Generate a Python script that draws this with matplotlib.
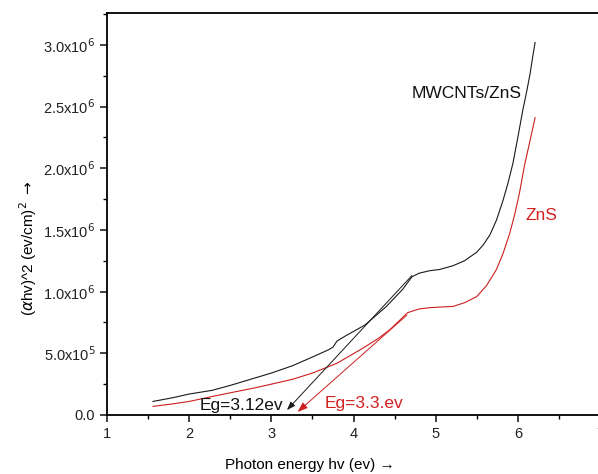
import matplotlib
matplotlib.use("Agg")
from matplotlib import pyplot as plt
from matplotlib.ticker import MultipleLocator, FuncFormatter
import numpy as np

plt.rcParams['font.family'] = ['Liberation Sans', 'DejaVu Sans']

# MWCNTs/ZnS curve
x_mw = [1.56, 1.8, 2.0, 2.28, 2.5, 2.8, 3.0, 3.26, 3.5, 3.7, 3.75, 3.8, 3.9, 4.14,
        4.4, 4.6, 4.71, 4.8, 4.93, 5.05, 5.21, 5.35, 5.5, 5.58, 5.66, 5.74, 5.82, 5.88,
        5.94, 6.0, 6.06, 6.11, 6.15, 6.18, 6.21]
y_mw = [0.11, 0.14, 0.17, 0.20, 0.24, 0.30, 0.34, 0.40, 0.47, 0.53, 0.55, 0.60, 0.64, 0.73,
        0.88, 1.02, 1.12, 1.15, 1.17, 1.18, 1.21, 1.25, 1.32, 1.38, 1.46, 1.58, 1.74, 1.88,
        2.04, 2.25, 2.47, 2.63, 2.77, 2.90, 3.02]

# ZnS curve
x_zns = [1.56, 1.8, 2.0, 2.28, 2.5, 2.8, 3.0, 3.26, 3.5, 3.8, 4.11, 4.3, 4.44, 4.66,
         4.8, 4.93, 5.05, 5.21, 5.35, 5.5, 5.62, 5.74, 5.82, 5.9, 5.96, 6.02, 6.08,
         6.15, 6.21]
y_zns = [0.07, 0.09, 0.11, 0.15, 0.18, 0.22, 0.25, 0.29, 0.34, 0.42, 0.54, 0.62, 0.69, 0.83,
         0.86, 0.87, 0.875, 0.88, 0.91, 0.96, 1.05, 1.18, 1.31, 1.47, 1.62, 1.80, 2.02,
         2.23, 2.41]

# tangent lines (start on curve, end at band gap)
tan_mw = [(4.71, 1.13), (3.19, 0.04)]
tan_zns = [(4.65, 0.81), (3.32, 0.025)]

scale = 1e6

fig = plt.figure(figsize=(5.98, 4.74), dpi=100)
ax = fig.add_axes([107 / 598, 1 - 415 / 474, 493 / 598, 401.5 / 474])

ax.plot(x_mw, np.array(y_mw) * scale, color="#1a1a1a", lw=0.8)
ax.plot(x_zns, np.array(y_zns) * scale, color="#cc1f1f", lw=0.8)

ax.annotate("", xy=(tan_mw[1][0], tan_mw[1][1] * scale),
            xytext=(tan_mw[0][0], tan_mw[0][1] * scale),
            arrowprops=dict(arrowstyle="-|>,head_length=0.5,head_width=0.18",
                            color="#1a1a1a", lw=0.7, shrinkA=0, shrinkB=0))
ax.annotate("", xy=(tan_zns[1][0], tan_zns[1][1] * scale),
            xytext=(tan_zns[0][0], tan_zns[0][1] * scale),
            arrowprops=dict(arrowstyle="-|>,head_length=0.6,head_width=0.22",
                            color="#cc1f1f", lw=0.7, shrinkA=0, shrinkB=0))

ax.text(2.13, 0.08e6, "Eg=3.12ev", fontsize=12.5, color="#111111", va="center")
ax.text(3.65, 0.09e6, "Eg=3.3.ev", fontsize=12.5, color="#d42020", va="center")
ax.text(4.71, 2.61e6, "MWCNTs/ZnS", fontsize=12.5, color="#111111", va="center")
ax.text(6.09, 1.62e6, "ZnS", fontsize=12.5, color="#d42020", va="center")

ax.set_xlim(1, 7)
ax.set_ylim(0, 3.255e6)
ax.xaxis.set_major_locator(MultipleLocator(1))
ax.xaxis.set_minor_locator(MultipleLocator(0.5))
ax.yaxis.set_major_locator(MultipleLocator(0.5e6))
ax.yaxis.set_minor_locator(MultipleLocator(0.25e6))


def yfmt(v, pos):
    if v <= 0:
        return "0.0"
    exp = int(np.floor(np.log10(v)))
    return r"%.1fx10$^{%d}$" % (v / 10 ** exp, exp)


ax.yaxis.set_major_formatter(FuncFormatter(yfmt))
ax.tick_params(which="major", direction="out", length=5, width=1.2, labelsize=10.5, colors="#222222")
ax.tick_params(which="minor", direction="out", length=3, width=1.0)
for s in ["left", "bottom", "top"]:
    ax.spines[s].set_linewidth(1.3)
ax.spines["right"].set_visible(False)

fig.text(310 / 598, 1 - 465 / 474, "Photon energy hv (ev) \u2192", fontsize=11,
         ha="center", va="center")
fig.text(28 / 598, 1 - 248 / 474, r"($\alpha$hv)^2 (ev/cm)$^2$ $\rightarrow$", fontsize=11,
         rotation=90, ha="center", va="center")

fig.savefig("out.png", dpi=100)
